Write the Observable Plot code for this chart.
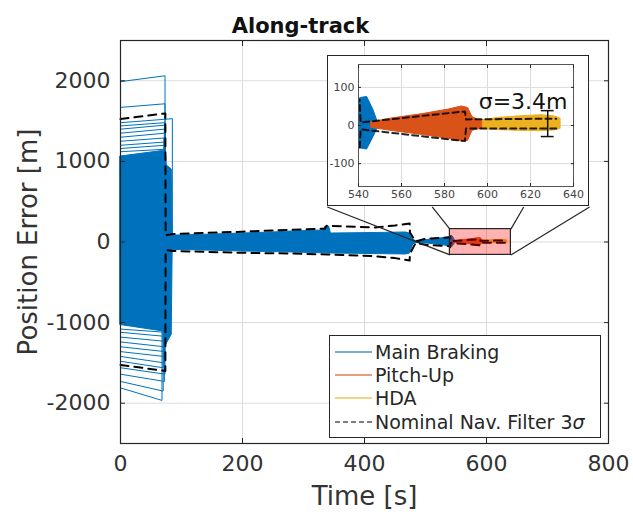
<!DOCTYPE html>
<html>
<head>
<meta charset="utf-8">
<script src="https://cdn.jsdelivr.net/npm/d3@7"></script>
<script src="https://cdn.jsdelivr.net/npm/@observablehq/plot@0.6"></script>
<style>
  body { margin: 0; background: #fff; font-family: "DejaVu Sans", sans-serif; }
  #wrap { position: relative; width: 633px; height: 514px; overflow: hidden; }
  #wrap > svg { position: absolute; left: 0; top: 0; }
  #inset { position: absolute; border: 1px solid #262626; background: #fff; line-height: 0; }
  #legend { position: absolute; border: 1px solid #262626; background: #fff;
            font-family: "DejaVu Sans", sans-serif; font-size: 19px; color: #262626;
            padding: 4px 0 0 0; box-sizing: border-box; }
  #legend .row { display: flex; align-items: center; height: 23.3px; white-space: nowrap; }
  #legend svg { margin: 0 3px 0 5px; }
</style>
</head>
<body>
<div id="wrap"></div>
<script>
(() => {
// ---- text ----
const titleText = ["Along-track"];
const xLabel = ["Time [s]"];
const yLabel = ["Position Error [m]"];
const seriesNames = ["Main Braking", "Pitch-Up", "HDA", "Nominal Nav. Filter 3σ"];
const seriesColors = ["#0072BD", "#D95319", "#EDB120", "#000000"];

// ---- axes ----
const xTicks = [0, 200, 400, 600, 800];
const yTicks = [-2000, -1000, 0, 1000, 2000];
const xDomain = [0, 800];
const yDomain = [-2500, 2500];
const insetXTicks = [540, 560, 580, 600, 620, 640];
const insetYTicks = [-100, 0, 100];

// zoomed window [t0, t1] x [v0, v1]
const zoomWindow = [540, 640, -160, 160];
// inset placement, in main-axes data units [t0, t1, v0, v1]
const insetBox = [339, 769, 435, 2310];
// leader lines: inset bottom edge point -> zoom window corner
const zoomLinks = [
  [339, 435, 540, -160],
  [511, 435, 540, 160],
  [661, 435, 640, 160],
  [769, 435, 640, -160]
];

// ---- Main braking: dense Monte Carlo core [t, low, high] ----
const brakingCore = [
  [0, -1030, 1060], [70, -1110, 1130], [72.5, -1120, 1140], [73, -1300, 1240],
  [76, -1260, 950], [84, -1150, 900], [85.5, -100, 80], [100, -100, 82],
  [150, -108, 92], [200, -118, 105], [250, -125, 118], [280, -130, 130],
  [333, -140, 143], [336, -141, 192], [342, -142, 192], [345, -143, 105],
  [420, -150, 112], [468, -155, 118], [474, -145, 105], [480, -30, 30],
  [484, -12, 12], [500, -18, 22], [520, -32, 38], [538, -50, 60],
  [541, -60, 72], [544, -63, 75], [547, -30, 40], [549, -6, 8]
];
// individual braking runs outside the core [value at t=0, value at end, end time]
const brakingRuns = [
  [1990, 2062, 73], [1670, 1715, 73], [1480, 1530, 85], [1440, 1480, 72],
  [1400, 1450, 73], [1350, 1400, 72], [1300, 1350, 73], [1250, 1290, 71],
  [1200, 1240, 72], [1160, 1200, 73], [1120, 1150, 72],
  [-1810, -1965, 68], [-1730, -1850, 70], [-1640, -1730, 72], [-1560, -1640, 73],
  [-1480, -1560, 70], [-1420, -1500, 72], [-1360, -1420, 71], [-1300, -1360, 73],
  [-1240, -1300, 72], [-1180, -1230, 70], [-1120, -1170, 72], [-1080, -1120, 73]
];
// ---- Pitch-Up and HDA spreads [t, low, high] ----
const pitchUpBand = [
  [546, -6, 8], [555, -14, 18], [570, -25, 30], [582, -35, 42], [588, -42, 50],
  [591, -40, 46], [593, -14, 22], [596, -10, 14], [601, -8, 12]
];
const hdaBand = [
  [598, -10, 14], [605, -12, 20], [615, -14, 24], [625, -15, 27], [631, -13, 24], [634, -9, 18]
];
// ---- nominal navigation filter 3-sigma envelope [t, value] ----
const navUpper = [
  [0, 1525], [73.5, 1595], [74, 85], [87, 99], [200, 128], [280, 152], [335, 165],
  [338, 203], [415, 180], [450, 205], [474, 230], [474.5, 118], [484, 5], [500, 40],
  [538, 55], [540.5, 68], [541, 8], [589.5, 37], [590, 16], [632, 18]
];
const navLower = [
  [0, -1525], [73.5, -1600], [74, -100], [87, -112], [200, -134], [280, -143],
  [340, -155], [415, -174], [450, -200], [474, -230], [474.5, -143], [484, -10],
  [500, -35], [538, -50], [540.5, -63], [541, -10], [589.5, -41], [590, -8], [632, -8]
];
// HDA dispersion marker
const sigmaHDA = 3.4;
const errorBar = [[628, -29, 39]];

const [BLUE, ORANGE, YELLOW] = seriesColors;
const runRows = brakingRuns.flatMap(([v0, v1, tEnd], i) => [
  {run: i, t: 0, v: v0}, {run: i, t: tEnd, v: v1}, {run: i, t: tEnd, v: 0}
]);

const band = (data, fill, extra = {}) =>
  Plot.areaY(data, {x: d => d[0], y1: d => d[1], y2: d => d[2], fill, stroke: fill, strokeWidth: 1, ...extra});
const env = (data, extra) =>
  Plot.line(data, {x: d => d[0], y: d => d[1], stroke: "#000", ...extra});
const plain = d => String(d);

const font = "DejaVu Sans";

const main = Plot.plot({
  width: 633, height: 514,
  marginLeft: 120, marginRight: 25, marginTop: 40, marginBottom: 71,
  x: {domain: xDomain, label: null},
  y: {domain: yDomain, label: null},
  style: {fontFamily: font, color: "#262626", background: "transparent"},
  marks: [
    Plot.gridX(xTicks, {stroke: "#dcdcdc", strokeOpacity: 1}),
    Plot.gridY(yTicks, {stroke: "#dcdcdc", strokeOpacity: 1}),
    band(brakingCore, BLUE),
    Plot.line(runRows, {x: "t", y: "v", z: "run", stroke: BLUE, strokeWidth: 1}),
    band(pitchUpBand, ORANGE),
    band(hdaBand, YELLOW),
    env(navUpper, {strokeWidth: 2, strokeDasharray: "8,6"}),
    env(navLower, {strokeWidth: 2, strokeDasharray: "8,6"}),
    Plot.link(zoomLinks, {x1: d => d[0], y1: d => d[1], x2: d => d[2], y2: d => d[3], stroke: "#262626", strokeWidth: 1.2}),
    Plot.rect([zoomWindow], {x1: d => d[0], x2: d => d[1], y1: d => d[2], y2: d => d[3],
      fill: "red", fillOpacity: 0.3, stroke: "#262626", strokeWidth: 1.2}),
    Plot.frame({stroke: "#262626", strokeWidth: 1.2}),
    Plot.axisX(xTicks, {anchor: "bottom", tickSize: 5, dy: -5, tickPadding: 12, fontSize: 22, fill: "#333", tickFormat: plain, label: null}),
    Plot.axisY(yTicks, {anchor: "left", tickSize: 5, dx: 5, tickPadding: 10, fontSize: 22, fill: "#333", tickFormat: plain, label: null}),
    Plot.axisX(xTicks, {anchor: "top", tickSize: 5, dy: 5, tickFormat: () => "", label: null}),
    Plot.axisY(yTicks, {anchor: "right", tickSize: 5, dx: -5, tickFormat: () => "", label: null}),
    Plot.text(titleText, {text: d => d, frameAnchor: "top", dx: -64, dy: -22, fontSize: 21, fontWeight: "bold", fill: "#111"}),
    Plot.text(xLabel, {text: d => d, frameAnchor: "bottom", dy: 61, fontSize: 26, fill: "#333"}),
    Plot.text(yLabel, {text: d => d, frameAnchor: "left", textAnchor: "middle", rotate: -90, dx: -92, fontSize: 26, fill: "#333"})
  ]
});

const wrap = document.getElementById("wrap");
wrap.appendChild(main);

// ---- inset ----
const sx = main.scale("x"), sy = main.scale("y");
const boxLeft = sx.apply(insetBox[0]), boxRight = sx.apply(insetBox[1]);
const boxTop = sy.apply(insetBox[3]), boxBottom = sy.apply(insetBox[2]);
const iw = Math.round(boxRight - boxLeft), ih = Math.round(boxBottom - boxTop);

const inset = Plot.plot({
  width: iw - 2, height: ih - 2,
  marginLeft: 30, marginRight: 15, marginTop: 8, marginBottom: 19,
  x: {domain: zoomWindow.slice(0, 2), label: null},
  y: {domain: zoomWindow.slice(2, 4), label: null},
  style: {fontFamily: font, color: "#262626", background: "white"},
  marks: [
    Plot.gridX(insetXTicks, {stroke: "#dcdcdc", strokeOpacity: 1}),
    Plot.gridY(insetYTicks, {stroke: "#dcdcdc", strokeOpacity: 1}),
    band(brakingCore, BLUE, {clip: true}),
    band(pitchUpBand, ORANGE, {clip: true}),
    band(hdaBand, YELLOW, {clip: true}),
    env(navUpper, {strokeWidth: 2, strokeDasharray: "6,4", strokeOpacity: 0.85, clip: true}),
    env(navLower, {strokeWidth: 2, strokeDasharray: "6,4", strokeOpacity: 0.85, clip: true}),
    Plot.ruleX(errorBar, {x: d => d[0], y1: d => d[1], y2: d => d[2], stroke: "#111", strokeWidth: 1.5}),
    Plot.ruleY(errorBar.flatMap(d => [[d[0], d[1]], [d[0], d[2]]]),
      {y: d => d[1], x1: d => d[0] - 3, x2: d => d[0] + 3, stroke: "#111", strokeWidth: 1.5}),
    Plot.text([`σ=${sigmaHDA}m`], {text: d => d, frameAnchor: "top-right", dx: -6, dy: 29, fontSize: 22, fill: "#111"}),
    Plot.frame({stroke: "#555", strokeWidth: 1}),
    Plot.axisX(insetXTicks, {anchor: "bottom", tickSize: 3, dy: -3, tickPadding: 4, fontSize: 11, fill: "#444", tickFormat: plain, label: null}),
    Plot.axisY(insetYTicks, {anchor: "left", tickSize: 3, dx: 3, tickPadding: 4, fontSize: 11, fill: "#444", tickFormat: plain, label: null}),
    Plot.axisX(insetXTicks, {anchor: "top", tickSize: 3, dy: 3, tickFormat: () => "", label: null}),
    Plot.axisY(insetYTicks, {anchor: "right", tickSize: 3, dx: -3, tickFormat: () => "", label: null})
  ]
});

const insetDiv = document.createElement("div");
insetDiv.id = "inset";
insetDiv.style.left = `${boxLeft}px`;
insetDiv.style.top = `${boxTop}px`;
insetDiv.appendChild(inset);
wrap.appendChild(insetDiv);

// ---- legend ----
const legend = document.createElement("div");
legend.id = "legend";
Object.assign(legend.style, {left: "329px", top: "335px", width: "272px", height: "103px"});
seriesNames.forEach((name, i) => {
  const row = document.createElement("div");
  row.className = "row";
  const dashed = i === seriesNames.length - 1;
  row.innerHTML =
    `<svg width="37" height="10"><line x1="0" x2="37" y1="5" y2="5" stroke="${seriesColors[i]}" ` +
    `stroke-width="${dashed ? 1.2 : 1.6}" ${dashed ? 'stroke-dasharray="5,3"' : ''} stroke-opacity="${dashed ? 1 : 0.75}"/></svg>` +
    `<span>${name.replace("σ", "<i>σ</i>")}</span>`;
  legend.appendChild(row);
});
wrap.appendChild(legend);
})();
</script>
</body>
</html>
